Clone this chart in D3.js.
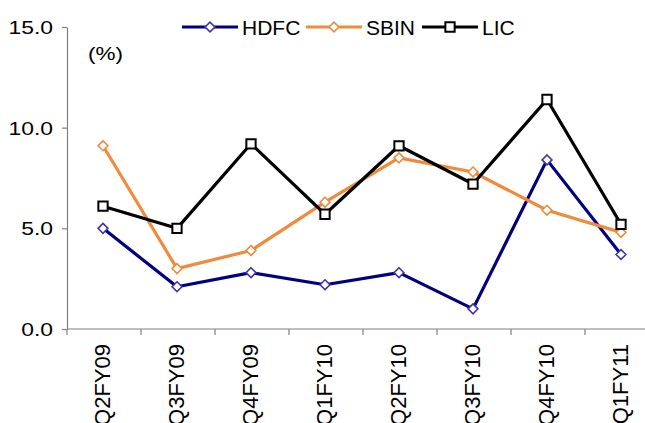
<!DOCTYPE html>
<html lang="en">
<head>
    <meta charset="UTF-8">
    <title>HDFC / SBIN / LIC</title>
    <style>
        body {
            margin: 0;
            background-color: #fff;
        }
        svg {
            display: block;
            font-family: "Liberation Sans", Arial, sans-serif;
        }
        .axis path, .axis line {
            stroke: #808080;
            stroke-width: 1.2px;
        }
        .axis text {
            fill: #000;
        }
    </style>
</head>
<body>

<svg id="chart" width="645" height="423"></svg>

<script src="https://d3js.org/d3.v7.min.js"></script>
<script>
    // Data
    const quarters = ["Q2FY09", "Q3FY09", "Q4FY09", "Q1FY10", "Q2FY10", "Q3FY10", "Q4FY10", "Q1FY11"];
    const hdfc = [5.0, 2.1, 2.8, 2.2, 2.8, 1.0, 8.4, 3.7];
    const sbin = [9.1, 3.0, 3.9, 6.3, 8.5, 7.8, 5.9, 4.8];
    const lic  = [6.1, 5.0, 9.2, 5.7, 9.1, 7.2, 11.4, 5.2];
    const yTicks = [0, 5, 10, 15];

    const series = [
        { name: "HDFC", values: hdfc, line: "#000080", marker: "#4035a8", shape: "diamond" },
        { name: "SBIN", values: sbin, line: "#f08a3c", marker: "#f08a3c", shape: "diamond" },
        { name: "LIC",  values: lic,  line: "#000000", marker: "#000000", shape: "square" }
    ];

    const svg = d3.select("#chart");

    // the original text is drawn wider than it is tall
    function widen(sel, k) {
        sel.each(function() {
            const w = this.getComputedTextLength();
            d3.select(this)
                .attr("textLength", w * k)
                .attr("lengthAdjust", "spacingAndGlyphs");
        });
    }

    // Plot area (runs a little past the right edge like the original)
    const x = d3.scaleBand()
        .domain(quarters)
        .range([66, 658]);

    const y = d3.scaleLinear()
        .domain([0, 15])
        .range([329, 27]);

    // Y axis
    const yAxis = svg.append("g")
        .attr("class", "axis")
        .attr("transform", "translate(67,0)")
        .call(d3.axisLeft(y).tickValues(yTicks).tickFormat(d3.format(".1f")).tickSize(5).tickSizeOuter(0));
    yAxis.selectAll("text")
        .attr("x", -14)
        .attr("dy", "0.36em")
        .style("font-size", "18px")
        .call(widen, 1.27);

    // X axis: ticks between categories
    const xAxisG = svg.append("g")
        .attr("class", "axis")
        .attr("transform", "translate(0,329)");
    xAxisG.append("line")
        .attr("x1", 67).attr("x2", 660)
        .attr("y1", 0).attr("y2", 0);
    xAxisG.selectAll(".tick-mark")
        .data(quarters)
        .join("line")
        .attr("class", "tick-mark")
        .attr("x1", d => x(d) + 1).attr("x2", d => x(d) + 1)
        .attr("y1", 0).attr("y2", 6);
    xAxisG.selectAll(".cat")
        .data(quarters)
        .join("text")
        .attr("class", "cat")
        .attr("transform", d => `translate(${x(d) + x.bandwidth() / 2 + 7},15) rotate(-90)`)
        .attr("text-anchor", "end")
        .style("font-size", "22px")
        .text(d => d);

    // Unit label
    svg.append("text")
        .attr("x", 88)
        .attr("y", 60)
        .style("font-size", "18px")
        .text("(%)")
        .call(widen, 1.25);

    const cx = (d, i) => x(quarters[i]) + x.bandwidth() / 2;

    const line = d3.line()
        .x(cx)
        .y(d => y(d));

    const diamond = d3.symbol().type(d3.symbolDiamond2).size(62);
    const square = d3.symbol().type(d3.symbolSquare2).size(110);

    function drawMarker(g, s) {
        g.append("path")
            .attr("d", s.shape === "square" ? square() : diamond())
            .attr("fill", "#fff")
            .attr("stroke", s.marker)
            .attr("stroke-width", s.shape === "square" ? 2 : 1.6);
    }

    series.forEach(s => {
        svg.append("path")
            .datum(s.values)
            .attr("fill", "none")
            .attr("stroke", s.line)
            .attr("stroke-width", 3.2)
            .attr("stroke-linejoin", "round")
            .attr("d", line);

        s.values.forEach((v, i) => {
            const g = svg.append("g")
                .attr("transform", `translate(${cx(v, i)},${y(v)})`);
            drawMarker(g, s);
        });
    });

    // Legend
    const legendX = [182, 306, 422];
    series.forEach((s, i) => {
        const g = svg.append("g")
            .attr("transform", `translate(${legendX[i]},27)`);
        g.append("line")
            .attr("x1", 0).attr("x2", 56)
            .attr("stroke", s.line)
            .attr("stroke-width", 3.2);
        const m = g.append("g").attr("transform", "translate(28,0)");
        drawMarker(m, s);
        g.append("text")
            .attr("x", 60)
            .attr("dy", "0.36em")
            .style("font-size", "21px")
            .text(s.name);
    });
</script>

</body>
</html>
